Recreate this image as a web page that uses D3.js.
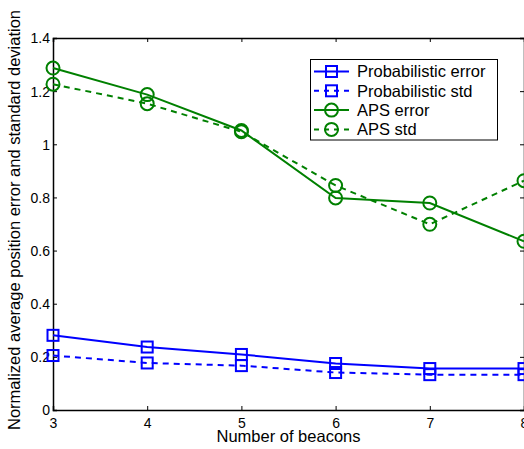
<!DOCTYPE html>
<html><head><meta charset="utf-8">
<script src="https://cdn.jsdelivr.net/npm/d3@7"></script>
<style>body{margin:0;background:#fff}svg{display:block;font-family:"Liberation Sans",Arial,sans-serif}</style>
</head><body>
<svg id="c" width="524" height="449"></svg>
<script>
const beacons = [3, 4, 5, 6, 7, 8];
const probError = [0.281, 0.237, 0.209, 0.175, 0.156, 0.156];
const probStd = [0.205, 0.177, 0.167, 0.141, 0.133, 0.133];
const apsError = [1.287, 1.187, 1.052, 0.798, 0.779, 0.635];
const apsStd = [1.226, 1.153, 1.047, 0.845, 0.699, 0.863];
const yTicks = [0, 0.2, 0.4, 0.6, 0.8, 1, 1.2, 1.4];
const seriesNames = ["Probabilistic error", "Probabilistic std", "APS error", "APS std"];

const svg = d3.select("#c");
const L = 53, R = 524, T = 38, B = 410;
const x = d3.scaleLinear().domain([3, 8]).range([L, R]);
const y = d3.scaleLinear().domain([0, 1.4]).range([B, T]);

const series = [
  {name: seriesNames[0], vals: probError, color: "#0000ff", dash: null, marker: "square"},
  {name: seriesNames[1], vals: probStd, color: "#0000ff", dash: "6,5", marker: "square"},
  {name: seriesNames[2], vals: apsError, color: "#008000", dash: null, marker: "circle"},
  {name: seriesNames[3], vals: apsStd, color: "#008000", dash: "6,5", marker: "circle"}
];

// axes
const fmt = d => d === 0 ? "0" : d3.format("~g")(d);
const axB = svg.append("g").attr("transform", `translate(0,${B})`)
  .call(d3.axisBottom(x).tickValues(beacons).tickSize(-4).tickPadding(8).tickFormat(d3.format("d")));
const axT = svg.append("g").attr("transform", `translate(0,${T})`)
  .call(d3.axisTop(x).tickValues(beacons).tickSize(-4).tickFormat(""));
const axL = svg.append("g").attr("transform", `translate(${L},0)`)
  .call(d3.axisLeft(y).tickValues(yTicks).tickSize(-4).tickPadding(3).tickFormat(fmt));
const axR = svg.append("g").attr("transform", `translate(${R},0)`)
  .call(d3.axisRight(y).tickValues(yTicks).tickSize(-4).tickFormat(""));
[axB, axT, axL, axR].forEach(a => {
  a.select(".domain").attr("stroke", "#000").attr("stroke-width", 1.5);
  a.selectAll(".tick line").attr("stroke", "#000");
  a.selectAll("text").attr("fill", "#000").style("font-size", "14px").style("font-family", "Liberation Sans, Arial, sans-serif");
});
axB.selectAll(".tick text").attr("dy", "0.71em");
axL.selectAll(".tick text").attr("dy", "0.35em");

function drawMarker(g, type, cx, cy, color) {
  if (type === "square") {
    g.append("rect").attr("x", cx - 5.5).attr("y", cy - 5.5).attr("width", 11).attr("height", 11)
      .attr("fill", "none").attr("stroke", color).attr("stroke-width", 2);
  } else {
    g.append("circle").attr("cx", cx).attr("cy", cy).attr("r", 6.5)
      .attr("fill", "none").attr("stroke", color).attr("stroke-width", 2);
  }
}

const line = d3.line().x((d, i) => x(beacons[i])).y(d => y(d));
series.forEach(s => {
  const g = svg.append("g");
  g.append("path").attr("d", line(s.vals)).attr("fill", "none").attr("stroke", s.color)
    .attr("stroke-width", 2).attr("stroke-dasharray", s.dash);
  s.vals.forEach((v, i) => drawMarker(g, s.marker, x(beacons[i]), y(v), s.color));
});

// legend
const lg = svg.append("g");
lg.append("rect").attr("x", 310.5).attr("y", 59.5).attr("width", 187).attr("height", 80.5)
  .attr("fill", "#fff").attr("stroke", "#000").attr("stroke-width", 1);
series.forEach((s, i) => {
  const ly = 71.5 + i * 19.3;
  lg.append("line").attr("x1", 314).attr("x2", 349).attr("y1", ly).attr("y2", ly)
    .attr("stroke", s.color).attr("stroke-width", 2).attr("stroke-dasharray", s.dash ? "5,5" : null);
  drawMarker(lg, s.marker, 331.5, ly, s.color);
  lg.append("text").attr("x", 357).attr("y", ly).attr("dy", "0.35em").text(s.name)
    .style("font-size", "16.5px").attr("fill", "#000");
});

// labels
svg.append("text").attr("x", (L + R) / 2).attr("y", 442).attr("text-anchor", "middle")
  .style("font-size", "16.5px").text("Number of beacons");
svg.append("text").attr("transform", `translate(20,220) rotate(-90)`)
  .attr("text-anchor", "middle").style("font-size", "16.5px")
  .text("Normalized average position error and standard deviation");
</script>
</body></html>
